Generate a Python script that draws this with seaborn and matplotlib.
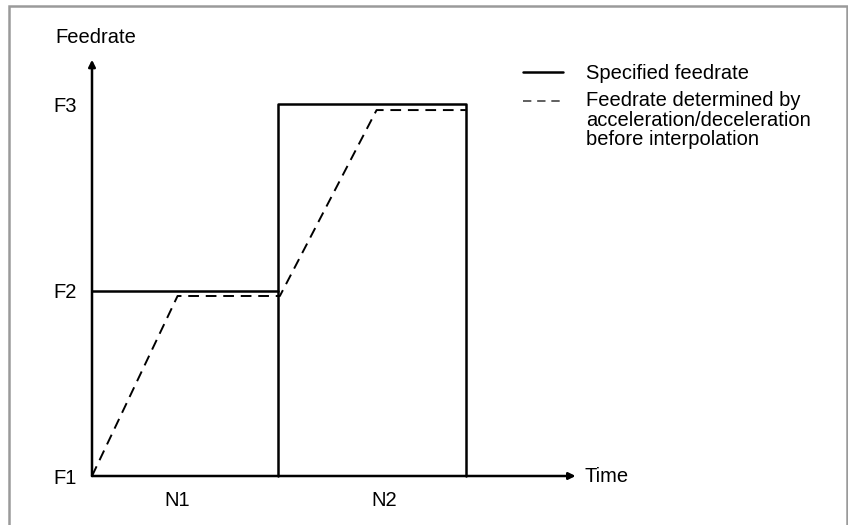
import matplotlib
matplotlib.use("Agg")
import matplotlib.pyplot as plt
import seaborn as sns
import pandas as pd
from matplotlib.patches import Rectangle

# 데이터: 이송속도 레벨 (F1=0, F2=1, F3=2), 블록 (N1: 0~1, N2: 1~2)
levels = ["F1", "F2", "F3"]
level_vals = [0, 1, 2.01]
blocks = ["N1", "N2"]
block_label_x = [0.46, 1.57]

# 지령 이송속도 (두 조각)
spec_t = [0, 1, 1, 1, 2.01, 2.01]
spec_f = [1, 1, 0, 2.01, 2.01, 0]
spec_piece = [0, 0, 1, 1, 1, 1]

# 보간전 가감속으로 결정된 이송속도
acc_t = [0, 0.46, 1.01, 1.53, 2.01]
acc_f = [0, 0.973, 0.973, 1.978, 1.978]

time_end = 2.6
feed_end = 2.25

sns.set_style("white")
plt.rcParams['font.family'] = ['Liberation Sans', 'DejaVu Sans']
plt.rcParams['text.color'] = 'black'
fs = 14.5

fig = plt.figure(figsize=(8.48, 5.25), dpi=100)
ax = fig.add_axes([0, 0, 1, 1])
ax.set_xlim(-92 / 186, 756 / 186)
ax.set_ylim(-49 / 185, 476 / 185)
ax.axis("off")

spec_df = pd.DataFrame({"t": spec_t, "f": spec_f, "piece": spec_piece})
acc_df = pd.DataFrame({"t": acc_t, "f": acc_f})

sns.lineplot(data=spec_df, x="t", y="f", units="piece", estimator=None, sort=False,
             color="black", lw=1.8, legend=False, ax=ax)
sns.lineplot(data=acc_df, x="t", y="f", estimator=None, sort=False,
             color="black", lw=1.4, ls=(0, (5.5, 3.5)), legend=False, ax=ax)

# 좌표축 화살표
arrow = dict(arrowstyle="-|>", lw=1.8, color="black", mutation_scale=10, shrinkA=0, shrinkB=0)
ax.annotate("", xy=(time_end, 0), xytext=(0, 0), arrowprops=arrow)
ax.annotate("", xy=(0, feed_end), xytext=(0, 0), arrowprops=arrow)

# 축 라벨
for lab, v in zip(levels, level_vals):
    ax.text(-0.205, v - 7.5 / 185, lab, fontsize=fs, ha="left", va="baseline")
for lab, x in zip(blocks, block_label_x):
    ax.text(x, -30 / 185, lab, fontsize=fs, ha="center", va="baseline")
ax.text(2.65, -6 / 185, "Time", fontsize=fs, ha="left", va="baseline")
ax.text(-0.199, 2.34, "Feedrate", fontsize=fs, ha="left", va="baseline")

# 범례 (수동)
W, H = 848, 525
def fx(px):
    return px / W
def fy(py):
    return 1 - py / H

fig.add_artist(plt.Line2D([fx(523), fx(563)], [fy(72), fy(72)], color="black", lw=1.8))
fig.add_artist(plt.Line2D([fx(523), fx(563)], [fy(101), fy(101)], color="#444444", lw=1.2,
                          ls=(0, (5, 3.5))))
fig.text(fx(586), fy(79), "Specified feedrate", fontsize=fs, ha="left", va="baseline")
fig.text(fx(586), fy(106), "Feedrate determined by", fontsize=fs, ha="left", va="baseline")
fig.text(fx(586), fy(125.5), "acceleration/deceleration", fontsize=fs, ha="left", va="baseline")
fig.text(fx(586), fy(145), "before interpolation", fontsize=fs, ha="left", va="baseline")

# 테두리
fig.add_artist(Rectangle((fx(9), -0.05), fx(847) - fx(9), fy(6) + 0.05, fill=False,
                         edgecolor="#9a9a9a", lw=1.8, transform=fig.transFigure, clip_on=False))

fig.savefig("out.png", dpi=100)
